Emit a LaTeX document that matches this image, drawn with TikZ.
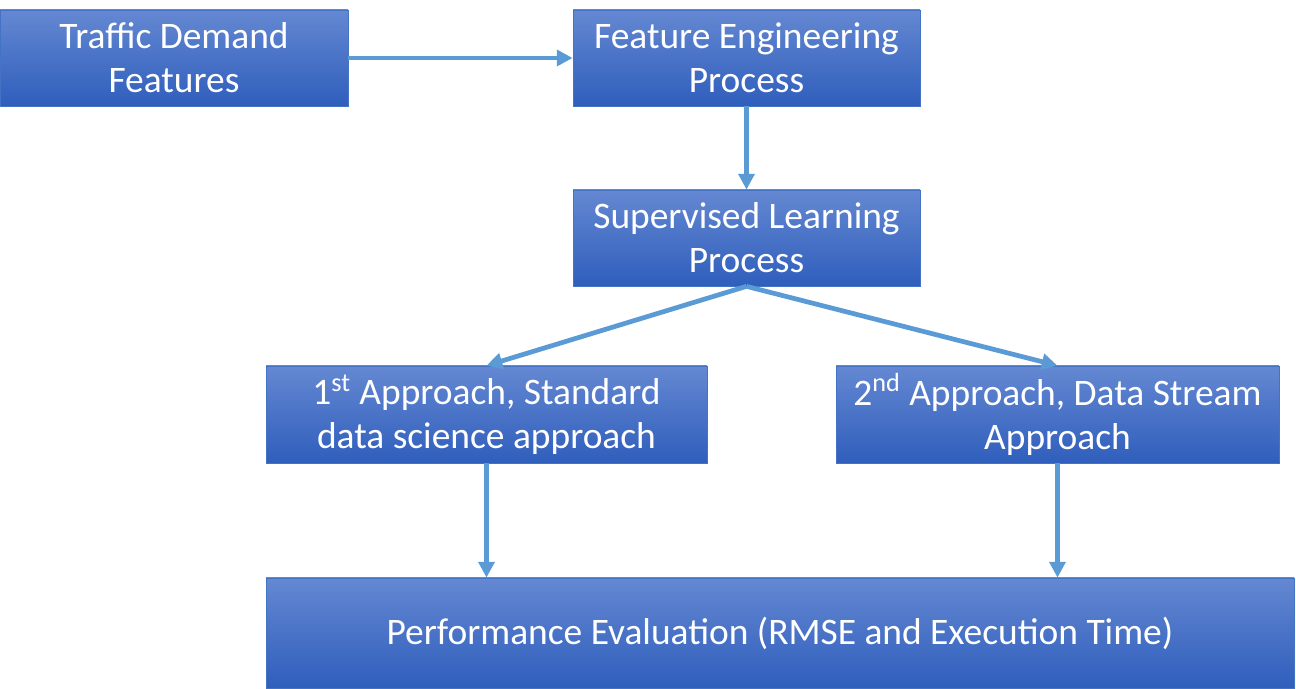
\documentclass[tikz,border=0pt]{standalone}
\usepackage{fontspec}
\setmainfont{Carlito}
\usepackage{tikz}
\usetikzlibrary{arrows.meta}
\definecolor{CajaArriba}{RGB}{100,136,210}
\definecolor{CajaAbajo}{RGB}{47,94,188}
\definecolor{CajaBorde}{RGB}{68,114,196}
\definecolor{FlechaAzul}{RGB}{91,155,213}

\begin{document}
\begin{tikzpicture}[>={Triangle[length=9pt,width=9pt]},
    caja/.style={draw=CajaBorde, thin, top color=CajaArriba, bottom color=CajaAbajo,
        text=white, align=center, inner sep=0pt,
        font=\fontsize{21.3}{25}\selectfont},
    flecha/.style={->, line width=2.7pt, FlechaAzul}]
    \useasboundingbox (0,0) rectangle (25.92,13.78);

    \node[caja, minimum width=6.96cm, minimum height=1.92cm] (tdf) at (3.48,12.62)
        {Traffic Demand\\Features};
    \node[caja, minimum width=6.94cm, minimum height=1.92cm] (fep) at (14.93,12.62)
        {Feature Engineering\\Process};
    \node[caja, minimum width=6.94cm, minimum height=1.92cm] (slp) at (14.93,9.02)
        {Supervised Learning\\Process};
    \node[caja, minimum width=8.82cm, minimum height=1.94cm] (ap1) at (9.73,5.49)
        {1\textsuperscript{st} Approach, Standard\\data science approach};
    \node[caja, minimum width=8.86cm, minimum height=1.94cm] (ap2) at (21.15,5.49)
        {2\textsuperscript{nd} Approach, Data Stream\\Approach};
    \node[caja, minimum width=20.56cm, minimum height=2.2cm] (eval) at (15.6,1.12)
        {Performance Evaluation (RMSE and Execution Time)};

    \draw[flecha] (tdf) -- (fep);
    \draw[flecha] (fep) -- (slp);
    \draw[flecha] (slp.south) -- (ap1.north);
    \draw[flecha] (slp.south) -- (ap2.north);
    \draw[flecha] (ap1.south) -- (ap1.south |- eval.north);
    \draw[flecha] (ap2.south) -- (ap2.south |- eval.north);
\end{tikzpicture}
\end{document}
